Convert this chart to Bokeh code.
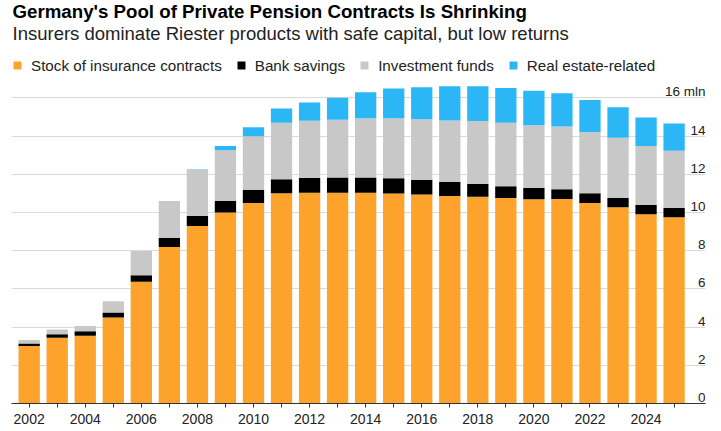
import numpy as np
from bokeh.core.properties import value
from bokeh.embed import file_html
from bokeh.models import (ColumnDataSource, FixedTicker, Legend, LegendItem,
                          Range1d)
from bokeh.plotting import figure
from bokeh.resources import INLINE

# Riester contracts in Germany, millions
years = list(range(2002, 2026))
insurance = [3.01, 3.44, 3.55, 4.50, 6.38, 8.19, 9.29, 10.00, 10.50, 11.01, 11.03, 11.03,
             11.03, 10.99, 10.94, 10.87, 10.83, 10.76, 10.69, 10.71, 10.50, 10.27, 9.91, 9.75]
bank = [0.13, 0.19, 0.23, 0.27, 0.34, 0.48, 0.53, 0.62, 0.69, 0.73, 0.78, 0.80,
        0.80, 0.80, 0.76, 0.73, 0.66, 0.62, 0.59, 0.51, 0.51, 0.49, 0.48, 0.48]
funds = [0.18, 0.25, 0.28, 0.58, 1.26, 1.93, 2.40, 2.64, 2.80, 2.96, 2.99, 3.03,
         3.10, 3.14, 3.18, 3.22, 3.30, 3.32, 3.29, 3.28, 3.21, 3.16, 3.09, 3.00]
real_estate = [0.0, 0.0, 0.0, 0.0, 0.0, 0.0, 0.03, 0.22, 0.48, 0.74, 0.96, 1.15,
               1.36, 1.56, 1.68, 1.79, 1.82, 1.82, 1.81, 1.74, 1.67, 1.59, 1.50, 1.43]

series = ["insurance", "bank", "funds", "real_estate"]
labels = ["Stock of insurance contracts", "Bank savings", "Investment funds", "Real estate-related"]
colors = ["#FDA22B", "#000000", "#C8C8C8", "#2BB7F5"]

y_ticks = [0, 2, 4, 6, 8, 10, 12, 14, 16]
y_tick_labels = ["0", "2", "4", "6", "8", "10", "12", "14", "16 mln"]

title = "Germany's Pool of Private Pension Contracts Is Shrinking"
subtitle = "Insurers dominate Riester products with safe capital, but low returns"

FONT = "Liberation Sans"

source = ColumnDataSource(data=dict(year=years, insurance=insurance, bank=bank,
                                    funds=funds, real_estate=real_estate))

# frame runs up to the top edge, headings live inside it
p = figure(width=721, height=431, output_backend="svg", toolbar_location=None, title=None,
           x_range=Range1d(2001.37, 2026.12), y_range=Range1d(0, 21.1),
           min_border_left=11, min_border_right=16, min_border_top=0, min_border_bottom=28)
p.outline_line_color = None
p.background_fill_color = "white"

renderers = p.vbar_stack(series, x="year", width=0.76, color=colors, line_color=None,
                         source=source)

# y labels sit on the right end of each gridline
ysrc = ColumnDataSource(data=dict(x=[p.x_range.end] * len(y_ticks), y=y_ticks, t=y_tick_labels))
p.text("x", "y", text="t", source=ysrc, text_align="right", text_baseline="alphabetic",
       y_offset=-6, text_font=value(FONT), text_font_size="13.5px", text_color="#222222")

# title + subtitle, anchored to the top-left corner of the frame
p.text(x=[p.x_range.start], y=[p.y_range.end], text=[title], x_offset=1, y_offset=11,
       text_baseline="alphabetic", text_font=value(FONT), text_font_size="18.7px",
       text_font_style="bold", text_color="#000000")
p.text(x=[p.x_range.start], y=[p.y_range.end], text=[subtitle], x_offset=1, y_offset=32.5,
       text_baseline="alphabetic", text_font=value(FONT), text_font_size="18.5px",
       text_color="#222222")

p.yaxis.visible = False
p.ygrid.ticker = FixedTicker(ticks=y_ticks)
p.ygrid.grid_line_color = "#D9D9D9"
p.xgrid.grid_line_color = None

p.xaxis.ticker = FixedTicker(ticks=years)
p.xaxis.major_label_overrides = {y: (str(y) if y % 2 == 0 else "") for y in years}
p.xaxis.axis_line_color = "#333333"
p.xaxis.major_tick_line_color = "#333333"
p.xaxis.major_tick_in = 0
p.xaxis.major_tick_out = 4
p.xaxis.minor_tick_line_color = None
p.xaxis.major_label_standoff = 6
p.xaxis.major_label_text_font = FONT
p.xaxis.major_label_text_font_size = "14px"
p.xaxis.major_label_text_color = "#222222"

legend = Legend(items=[LegendItem(label=l, renderers=[r]) for l, r in zip(labels, renderers)],
                orientation="horizontal", location=(1, 328))
legend.label_text_font = FONT
legend.label_text_font_size = "15.2px"
legend.label_text_color = "#222222"
legend.glyph_width = 10
legend.glyph_height = 10
legend.label_height = 20
legend.label_standoff = 9
legend.spacing = 14
legend.padding = 0
legend.margin = 0
legend.border_line_color = None
legend.background_fill_alpha = 0
p.add_layout(legend)

open("out.html", "w").write(file_html(p, INLINE))
